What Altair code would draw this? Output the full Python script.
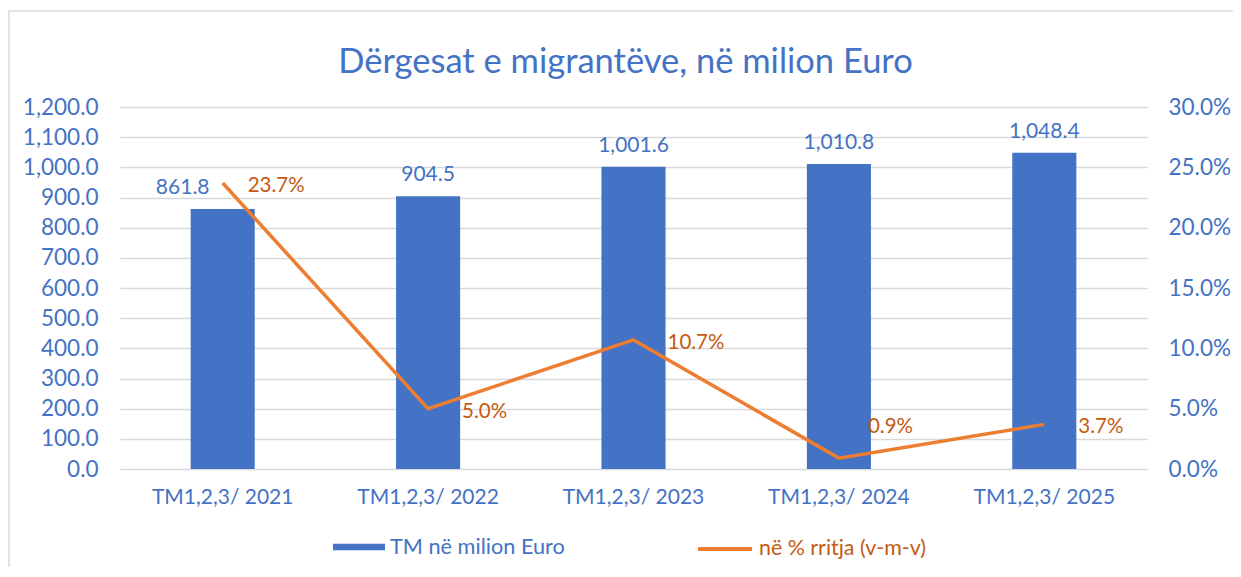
import altair as alt
import pandas as pd

# ---------------- data ----------------
PERIODS = ["TM1,2,3/ 2021", "TM1,2,3/ 2022", "TM1,2,3/ 2023", "TM1,2,3/ 2024", "TM1,2,3/ 2025"]
REMITTANCES = [861.8, 904.5, 1001.6, 1010.8, 1048.4]          # million EUR
GROWTH = [0.237, 0.050, 0.107, 0.009, 0.037]                  # y-o-y growth
SERIES = ["TM në milion Euro", "në % rritja (v-m-v)"]
LEFT_TICKS = [0, 100, 200, 300, 400, 500, 600, 700, 800, 900, 1000, 1100, 1200]
RIGHT_TICKS = [0.0, 0.05, 0.10, 0.15, 0.20, 0.25, 0.30]
TITLE = "Dërgesat e migrantëve, në milion Euro"

# ---------------- style ----------------
FONT = "Lato"
BLUE = "#4472C4"
ORANGE = "#ED7D31"
ORANGE_TXT = "#C55A11"
GRID = "#D9D9D9"
W, H = 1027, 362

df = pd.DataFrame({"period": PERIODS, "value": REMITTANCES, "growth": GROWTH})
base = alt.Chart(df)

x = alt.X(
    "period:N",
    sort=PERIODS,
    scale=alt.Scale(paddingInner=0.688, paddingOuter=0.344),
    axis=alt.Axis(title=None, labelAngle=0, labelFont=FONT, labelFontSize=21,
                  labelColor=BLUE, labelPadding=17, domain=False, ticks=False),
)
y_left = alt.Y(
    "value:Q",
    scale=alt.Scale(domain=[0, 1200], nice=False, zero=True),
    axis=alt.Axis(title=None, values=LEFT_TICKS, format=",.1f", grid=True,
                  gridColor=GRID, gridWidth=1.4, domain=False, ticks=False,
                  labelFont=FONT, labelFontSize=22.5, labelColor=BLUE, labelPadding=22),
)
y_right = alt.Y(
    "growth:Q",
    scale=alt.Scale(domain=[0, 0.30], nice=False, zero=True),
    axis=alt.Axis(title=None, orient="right", values=RIGHT_TICKS, format=".1%",
                  grid=False, domain=False, ticks=False,
                  labelFont=FONT, labelFontSize=22.5, labelColor=BLUE, labelPadding=21),
)

bars = base.transform_calculate(s1=f"'{SERIES[0]}'").mark_bar().encode(
    x=x,
    y=y_left,
    fill=alt.Fill(
        "s1:N",
        scale=alt.Scale(domain=[SERIES[0]], range=[BLUE]),
        legend=alt.Legend(title=None, orient="none", legendX=213, legendY=414,
                          symbolType="M-1,-0.125H1V0.125H-1Z", symbolSize=2704,
                          symbolStrokeWidth=0, labelFont=FONT, labelFontSize=21.7,
                          labelColor=BLUE, labelOffset=5, labelLimit=400, padding=0),
    ),
)

bar_labels = base.transform_filter(alt.datum.period != PERIODS[0]).mark_text(
    font=FONT, fontSize=21, color=BLUE, baseline="alphabetic", dy=-15
).encode(x=x, y=y_left, text=alt.Text("value:Q", format=",.1f"))

bar_label_first = base.transform_filter(alt.datum.period == PERIODS[0]).mark_text(
    font=FONT, fontSize=21, color=BLUE, baseline="alphabetic", dy=-15, dx=-40
).encode(x=x, y=y_left, text=alt.Text("value:Q", format=",.1f"))

line = base.transform_calculate(s2=f"'{SERIES[1]}'").mark_line(strokeWidth=3.5).encode(
    x=x,
    y=y_right,
    stroke=alt.Stroke(
        "s2:N",
        scale=alt.Scale(domain=[SERIES[1]], range=[ORANGE]),
        legend=alt.Legend(title=None, orient="none", legendX=576, legendY=413,
                          symbolType="stroke", symbolSize=2916, symbolStrokeWidth=4,
                          labelFont=FONT, labelFontSize=21.4, labelColor=ORANGE_TXT,
                          labelOffset=5, labelLimit=400, padding=0),
    ),
)

mid_periods = [PERIODS[1], PERIODS[2], PERIODS[4]]
line_labels = base.transform_filter(
    alt.FieldOneOfPredicate(field="period", oneOf=mid_periods)
).mark_text(
    font=FONT, fontSize=20.5, color=ORANGE_TXT, align="left", baseline="middle", dx=34, dy=3
).encode(x=x, y=y_right, text=alt.Text("growth:Q", format=".1%"))

line_label_first = base.transform_filter(alt.datum.period == PERIODS[0]).mark_text(
    font=FONT, fontSize=20.5, color=ORANGE_TXT, align="left", baseline="middle", dx=25, dy=3
).encode(x=x, y=y_right, text=alt.Text("growth:Q", format=".1%"))

line_label_low = base.transform_filter(alt.datum.period == PERIODS[3]).mark_text(
    font=FONT, fontSize=20.5, color=ORANGE_TXT, align="left", baseline="middle", dx=29, dy=-31
).encode(x=x, y=y_right, text=alt.Text("growth:Q", format=".1%"))

frame = alt.Chart(pd.DataFrame({"k": [0]})).mark_rect(
    fill=None, stroke=GRID, strokeWidth=1.5
).encode(x=alt.value(-111), x2=alt.value(1140), y=alt.value(-96), y2=alt.value(490))

left = alt.layer(bars, bar_labels, bar_label_first)
right = alt.layer(line, line_labels, line_label_first, line_label_low)

chart = (
    alt.layer(frame, left, right)
    .resolve_scale(y="independent")
    .properties(
        width=W,
        height=H,
        title=alt.TitleParams(TITLE, font=FONT, fontSize=34.5, fontWeight="normal",
                              color=BLUE, anchor="middle", frame="group",
                              baseline="alphabetic", dx=-8, offset=-97),
        autosize=alt.AutoSizeParams(type="none"),
        padding={"left": 112, "top": 99, "right": 86, "bottom": 98},
    )
    .configure_view(stroke=None)
)

chart.save("out.html", embed_options={"renderer": "svg", "actions": False})
